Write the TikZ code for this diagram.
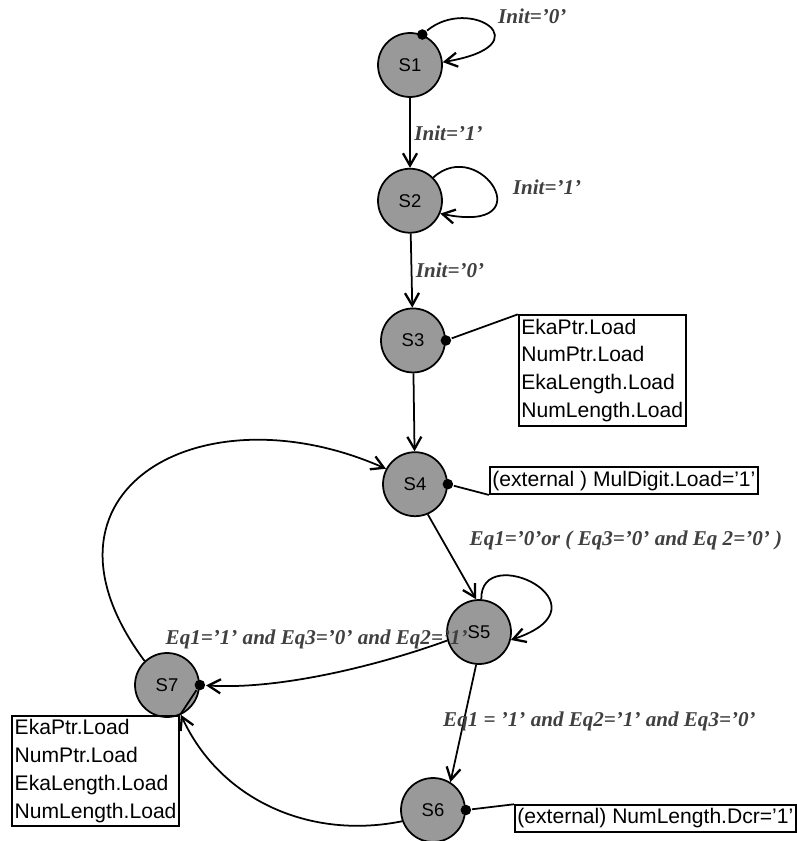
\documentclass[tikz,border=0pt]{standalone}
\usepackage{fontspec}
\setmainfont{Liberation Serif}
\setsansfont{Liberation Sans}
\usepackage{xcolor}
\usetikzlibrary{arrows.meta}
\usetikzlibrary{positioning}

\definecolor{stategray}{RGB}{153,153,153}
\definecolor{condgray}{RGB}{64,64,64}

\begin{document}
\begin{tikzpicture}[x=0.02cm,y=0.02cm,->,>={Straight Barb[length=7pt,width=8pt,line width=1.3pt]},line width=1pt,auto]
	\tikzstyle{vert}=[draw,circle,fill=stategray,minimum size=1.28cm,inner sep=0pt,font=\sffamily\fontsize{10.5}{12}\selectfont]
	\tikzstyle{act}=[draw,rectangle,align=left,inner xsep=1.5pt,inner ysep=2pt,font=\sffamily\fontsize{12}{15.9}\selectfont]
	\tikzstyle{cond}=[text=condgray,font=\bfseries\itshape\fontsize{12}{14}\selectfont,inner sep=2pt]
	\tikzstyle{pindot}=[circle,fill=black,inner sep=0pt,minimum size=6pt]
	\useasboundingbox (0,0) rectangle (796,-841);

	% states
	\node[vert] (S1) at (410,-65) {S1};
	\node[vert] (S2) [below=1.4cm of S1] {S2};
	\node[vert] (S3) [below=1.48cm of S2,xshift=0.06cm] {S3};
	\node[vert] (S4) [below=1.56cm of S3,xshift=0.04cm] {S4};
	\node[vert] (S5) at (479,-632) {S5};
	\node[vert] (S6) at (433,-810) {S6};
	\node[vert] (S7) at (167,-685) {S7};

	% actions
	\node[act] (L3) [right=1.44cm of S3,yshift=-0.6cm] {EkaPtr.Load\\NumPtr.Load\\EkaLength.Load\\NumLength.Load};
	\node[act] (L4) [right=0.82cm of S4,yshift=0.07cm] {(external ) MulDigit.Load='1'};
	\node[act] (L6) [right=0.96cm of S6,yshift=-0.17cm] {(external) NumLength.Dcr='1'};
	\node[act,anchor=north east] (L7) at (180,-715) {EkaPtr.Load\\NumPtr.Load\\EkaLength.Load\\NumLength.Load};

	\node[pindot] (a1) at (S1.68) {};
	\node[pindot] (a3) at (S3.east) {};
	\node[pindot] (a4) at (S4.east) {};
	\node[pindot] (a6) at (S6.east) {};
	\node[pindot] (a7) at (S7.east) {};

	\path
		(S1) edge node[cond] {Init='1'} (S2)
		(S2) edge node[cond] {Init='0'} (S3)
		(S3) edge (S4)
		(S4.293) edge (S5.95)
		(S5.265) edge node[cond,pos=0.48,anchor=west,xshift=-0.5cm] {Eq1 = '1' and Eq2='1' and Eq3='0'} (S6.58);

	% loops
	\draw (a1) .. controls (470,5) and (545,-45) .. node[cond,pos=0.5,anchor=west,xshift=0.09cm,yshift=0.2cm] {Init='0'} (S1.5);
	\draw (S2.45) .. controls (480,-135) and (545,-235) .. node[cond,pos=0.5,anchor=west,xshift=0.3cm] {Init='1'} (S2.-23);
	\draw (S5.86) .. controls (480,-540) and (615,-605) .. node[cond,pos=0.3,anchor=south west,xshift=-0.83cm,yshift=0.42cm] {Eq1='0'or ( Eq3='0' and Eq 2='0' )} (S5.-14);

	% back to S7 and S4
	\draw (S5.195) .. controls (380,-665) and (280,-690) .. node[cond,pos=0.5,anchor=south,xshift=-0.25cm,yshift=0.41cm] {Eq1='1' and Eq3='0' and Eq2='1'} (a7);
	\draw (S6.200) .. controls (310,-840) and (220,-800) .. (S7.-65);
	\draw (S7.133) .. controls (18,-491) and (201,-387) .. (S4.152);

	\draw[-] (a3) -- (L3.north west);
	\draw[-] (a4) -- (L4.south west);
	\draw[-] (a6) -- (L6.north west);
	\draw[-] (a7) -- (L7.north east);
\end{tikzpicture}
\end{document}
